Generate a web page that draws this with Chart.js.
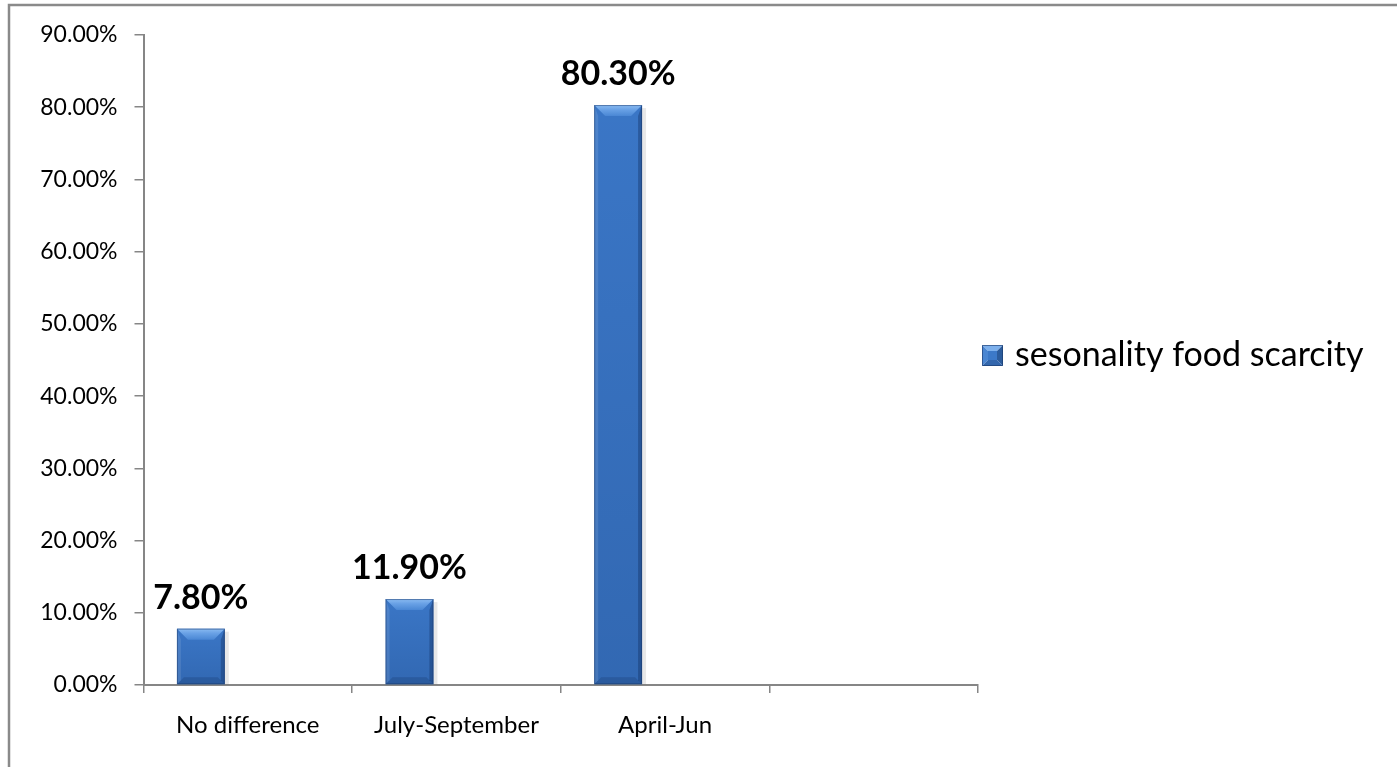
<!DOCTYPE html>
<html>
<head>
<meta charset="utf-8">
<script src="https://cdn.jsdelivr.net/npm/chart.js@4/dist/chart.umd.min.js"></script>
<style>
  html, body { margin: 0; padding: 0; background: #fff; }
  canvas { display: block; }
</style>
</head>
<body>
<canvas id="chart" width="1397" height="767"></canvas>
<script>
const CATEGORIES = ['No difference', 'July-September', 'April-Jun', ''];
const SCARCITY_PCT = [7.8, 11.9, 80.3, null];
// second (empty) series keeps the bars sitting left of each category centre
const SPACER_SERIES = [null, null, null, null];
const SERIES_NAME = 'sesonality food scarcity';
const Y_MIN = 0;
const Y_MAX = 90;
const Y_STEP = 10;

const FONT = 'Lato, "Open Sans", sans-serif';
const AXIS_GRAY = '#868686';

const pct = v => v.toFixed(2) + '%';

function barBody(ctx) {
  const { chart } = ctx;
  const el = ctx.element;
  if (!el || !chart.chartArea || !Number.isFinite(el.x) || !Number.isFinite(el.width)) return '#3a76c6';
  const half = el.width / 2;
  const g = chart.ctx.createLinearGradient(el.x - half, 0, el.x + half, 0);
  g.addColorStop(0, '#4a86d2');
  g.addColorStop(0.15, '#3c78c6');
  g.addColorStop(0.8, '#3671bd');
  g.addColorStop(1, '#2a5894');
  return g;
}

// bevelled top / sides like the Office "bevel" bar effect
function drawBevel(c, x0, x1, top, base) {
  const b = Math.min(11, (base - top) / 2);
  const s = 4;
  // drop shadow on the right
  c.fillStyle = 'rgba(0,0,0,0.09)';
  c.fillRect(x1, top + 3, 4, base - top - 3);

  // slight darkening towards the base
  const vg = c.createLinearGradient(0, top, 0, base);
  vg.addColorStop(0, 'rgba(0,20,60,0)');
  vg.addColorStop(1, 'rgba(0,20,60,0.14)');
  c.fillStyle = vg;
  c.fillRect(x0, top, x1 - x0, base - top);

  const tg = c.createLinearGradient(0, top, 0, top + b);
  tg.addColorStop(0, '#8cbcf2');
  tg.addColorStop(0.4, '#6aa2e6');
  tg.addColorStop(1, '#4a87d4');
  c.fillStyle = tg;
  c.beginPath();
  c.moveTo(x0, top); c.lineTo(x1, top); c.lineTo(x1 - b, top + b); c.lineTo(x0 + b, top + b);
  c.closePath(); c.fill();

  c.fillStyle = 'rgba(255,255,255,0.10)';
  c.beginPath();
  c.moveTo(x0, top); c.lineTo(x0 + s, top + b); c.lineTo(x0 + s, base - s); c.lineTo(x0, base);
  c.closePath(); c.fill();

  c.fillStyle = 'rgba(15,40,85,0.35)';
  c.beginPath();
  c.moveTo(x1, top); c.lineTo(x1 - s, top + b); c.lineTo(x1 - s, base - s); c.lineTo(x1, base);
  c.closePath(); c.fill();

  c.fillStyle = 'rgba(15,40,85,0.22)';
  c.beginPath();
  c.moveTo(x0, base); c.lineTo(x1, base); c.lineTo(x1 - 7, base - 7); c.lineTo(x0 + 7, base - 7);
  c.closePath(); c.fill();

  c.strokeStyle = 'rgba(25,55,105,0.5)';
  c.lineWidth = 1;
  c.strokeRect(x0 + 0.5, top + 0.5, x1 - x0 - 1, base - top - 1);
}

const frameAndLabels = {
  id: 'frameAndLabels',
  beforeDraw(chart) {
    const c = chart.ctx;
    c.save();
    c.fillStyle = '#fff';
    c.fillRect(0, 0, chart.width, chart.height);
    c.strokeStyle = '#8a8a8a';
    c.lineWidth = 2.5;
    c.strokeRect(9, 5, chart.width + 20, chart.height + 20);
    c.restore();
  },
  afterDatasetsDraw(chart) {
    const c = chart.ctx;
    const meta = chart.getDatasetMeta(0);
    c.save();
    meta.data.forEach((bar, i) => {
      const v = SCARCITY_PCT[i];
      if (v == null) return;
      const half = bar.width / 2;
      drawBevel(c, bar.x - half, bar.x + half, bar.y, bar.base);
      c.fillStyle = '#000';
      c.font = 'bold 34px ' + FONT;
      c.textAlign = 'center';
      c.textBaseline = 'alphabetic';
      c.fillText(pct(v), bar.x, bar.y - 20);
    });
    c.restore();
  },
  afterDraw(chart) {
    // legend entry on the right
    const c = chart.ctx;
    const x = 982, y = 345, sz = 21;
    c.save();
    const m = sz / 2;
    const tri = (pts, col) => {
      c.fillStyle = col;
      c.beginPath();
      c.moveTo(pts[0], pts[1]);
      for (let i = 2; i < pts.length; i += 2) c.lineTo(pts[i], pts[i + 1]);
      c.closePath(); c.fill();
    };
    tri([x, y, x + sz, y, x + m, y + m], '#7db0ec');
    tri([x, y, x + m, y + m, x, y + sz], '#4a86d2');
    tri([x + sz, y, x + sz, y + sz, x + m, y + m], '#2c5c9c');
    tri([x, y + sz, x + sz, y + sz, x + m, y + m], '#3367ad');
    c.fillStyle = '#3c79c8';
    c.fillRect(x + 6, y + 6, sz - 12, sz - 12);
    c.strokeStyle = 'rgba(25,55,105,0.6)';
    c.lineWidth = 1;
    c.strokeRect(x + 0.5, y + 0.5, sz - 1, sz - 1);
    c.fillStyle = '#000';
    c.font = '34px ' + FONT;
    c.textAlign = 'left';
    c.textBaseline = 'alphabetic';
    c.fillText(chart.data.datasets[0].label, 1015, 366);
    c.restore();
  }
};

new Chart(document.getElementById('chart'), {
  type: 'bar',
  data: {
    labels: CATEGORIES,
    datasets: [
      {
        label: SERIES_NAME,
        data: SCARCITY_PCT,
        backgroundColor: barBody,
        borderWidth: 0,
        categoryPercentage: 0.9,
        barPercentage: 0.51
      },
      {
        label: '',
        data: SPACER_SERIES,
        backgroundColor: 'rgba(0,0,0,0)',
        categoryPercentage: 0.9,
        barPercentage: 0.51
      }
    ]
  },
  options: {
    responsive: false,
    devicePixelRatio: 1,
    animation: false,
    layout: { padding: { left: 10, top: 35, right: 419, bottom: 10 } },
    plugins: {
      legend: { display: false },
      tooltip: { enabled: false }
    },
    scales: {
      x: {
        grid: {
          offset: true,
          drawOnChartArea: false,
          color: AXIS_GRAY,
          lineWidth: 1.5,
          tickLength: 8
        },
        border: { color: AXIS_GRAY, width: 2 },
        ticks: { color: '#000', font: { family: FONT, size: 24 }, padding: 18, maxRotation: 0 },
        afterFit(scale) { scale.height = 72; }
      },
      y: {
        min: Y_MIN,
        max: Y_MAX,
        grid: {
          drawOnChartArea: false,
          color: AXIS_GRAY,
          lineWidth: 1.5,
          tickLength: 9
        },
        border: { color: AXIS_GRAY, width: 2 },
        ticks: {
          stepSize: Y_STEP,
          color: '#000',
          font: { family: FONT, size: 23 },
          padding: 17,
          callback: v => pct(v)
        },
        afterFit(scale) { scale.width = 133.5; }
      }
    }
  },
  plugins: [frameAndLabels]
});
</script>
</body>
</html>
